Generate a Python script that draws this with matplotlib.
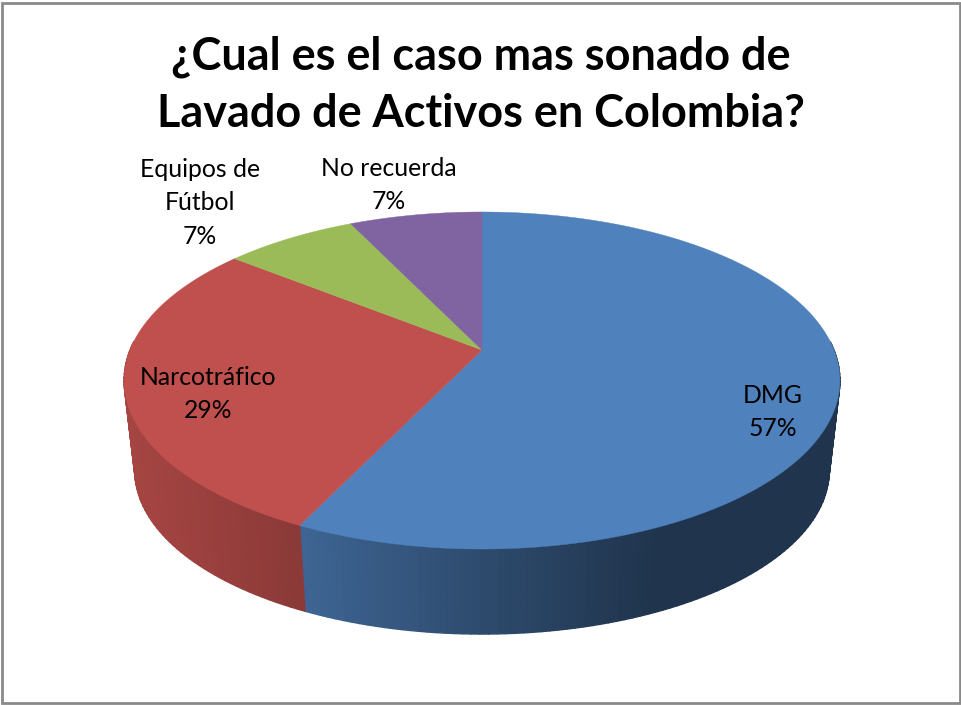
import numpy as np
import matplotlib
matplotlib.use("Agg")
import matplotlib.pyplot as plt
from matplotlib.collections import PolyCollection
from matplotlib.patches import Rectangle, Polygon
from matplotlib.colors import to_rgb

categories = ["DMG", "Narcotráfico", "Equipos de\nFútbol", "No recuerda"]
counts = [8, 4, 1, 1]
colors = ["#4f81bd", "#c0504d", "#9bbb59", "#8064a2"]
title = "¿Cual es el caso mas sonado de\nLavado de Activos en Colombia?"

# pie geometry (pixel-based axes, perspective projection of a flat disc)
CX, CY, A, B, P = 482.0, 350.0, 352.0, 163.0, 0.181
WALL_S, WALL_D = 0.97, 91.0

def project(theta, scale=1.0, dy=0.0):
    u, v = np.sin(theta), np.cos(theta)
    w = 1 + P * v
    return CX + scale * A * u / w, CY + dy - scale * B * v / w

shade_stops = {
    0: ([300, 480, 650, 840], [0.78, 0.58, 0.41, 0.41]),
    1: ([130, 300], [0.86, 0.72]),
    2: ([0, 962], [0.8, 0.8]),
    3: ([0, 962], [0.8, 0.8]),
}

fig = plt.figure(figsize=(9.62, 7.05), dpi=100)
ax = fig.add_axes([0, 0, 1, 1])
ax.set_xlim(0, 962)
ax.set_ylim(705, 0)
ax.axis("off")
ax.add_patch(Rectangle((2, 3), 958, 700, fc="white", ec="#8a8a8a", lw=2))

fracs = np.array(counts) / np.sum(counts)
edges = np.concatenate([[0], np.cumsum(fracs)]) * 2 * np.pi

# side wall: only the near part of the rim is visible
polys, fc = [], []
for i in range(len(counts)):
    ts = np.linspace(edges[i], edges[i + 1], max(int(fracs[i] * 300), 4))
    for t0, t1 in zip(ts[:-1], ts[1:]):
        if np.cos((t0 + t1) / 2) > 0.05:
            continue
        x0, y0 = project(t0); x1, y1 = project(t1)
        x2, y2 = project(t1, WALL_S, WALL_D); x3, y3 = project(t0, WALL_S, WALL_D)
        polys.append([(x0, y0), (x1, y1), (x2, y2), (x3, y3)])
        k = np.interp((x0 + x1) / 2, *shade_stops[i])
        fc.append(tuple(c * k for c in to_rgb(colors[i])))
ax.add_collection(PolyCollection(polys, facecolors=fc, edgecolors="face",
                                 linewidths=1.0, zorder=2))

# top face
for i in range(len(counts)):
    ts = np.linspace(edges[i], edges[i + 1], 200)
    xs, ys = project(ts)
    pts = np.column_stack([np.r_[CX, xs], np.r_[CY, ys]])
    ax.add_patch(Polygon(pts, closed=True, fc=colors[i], ec=colors[i], lw=0.3, zorder=3))

FONT = "Lato"
ax.text(481, 85, title, ha="center", va="center", fontsize=32.4, fontweight="bold",
        family=FONT, linespacing=1.44, color="black", zorder=5)

label_pos = [(773, 412), (208, 394), (200, 203), (389, 185)]
for name, n, (x, y) in zip(categories, counts, label_pos):
    pct = round(100 * n / sum(counts))
    ax.text(x, y, f"{name}\n{pct}%", ha="center", va="center", fontsize=17.8,
            family=FONT, linespacing=1.55, color="black", zorder=5)

fig.savefig("out.png", dpi=100)
